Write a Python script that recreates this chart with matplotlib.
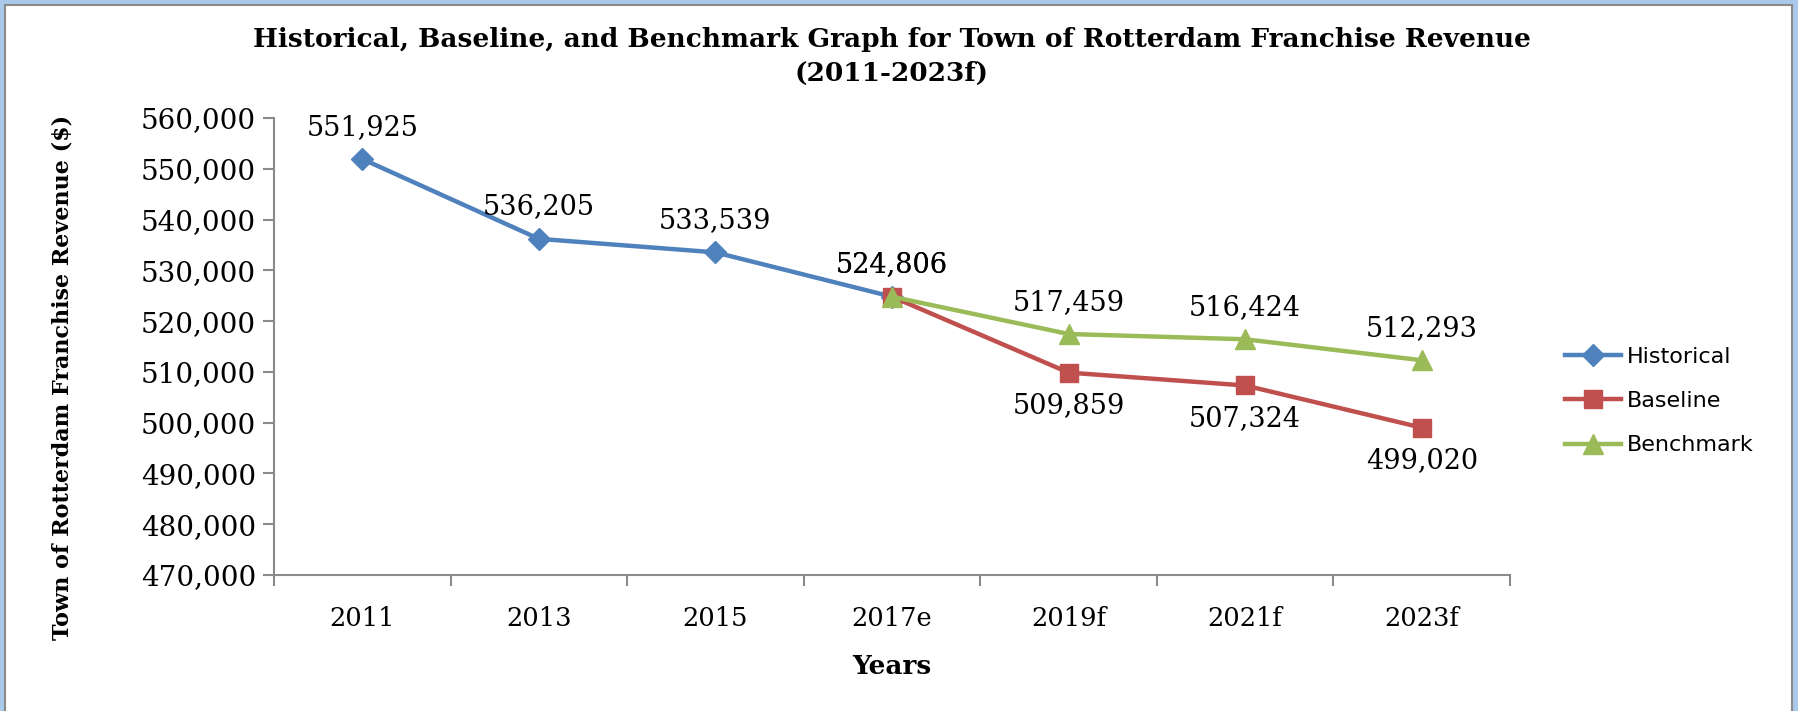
import matplotlib.pyplot as plt
from matplotlib.patches import Rectangle
from matplotlib.ticker import FuncFormatter, FixedLocator

# Data
years = ["2011", "2013", "2015", "2017e", "2019f", "2021f", "2023f"]
historical = [551925, 536205, 533539, 524806]
baseline = [524806, 509859, 507324, 499020]
benchmark = [524806, 517459, 516424, 512293]
hist_x = [0, 1, 2, 3]
proj_x = [3, 4, 5, 6]

W, H = 1799, 711
fig = plt.figure(figsize=(W / 100, H / 100), dpi=100)
fig.patch.set_facecolor("white")

# light blue frame with a thin grey inner line
fig.patches.append(Rectangle((0, 0), 1, 1, transform=fig.transFigure,
                             facecolor="#a9c8ea", edgecolor="none", zorder=-3))
fig.patches.append(Rectangle((5 / W, -0.05), (1792 - 5) / W, 1.05 - 5 / H,
                             transform=fig.transFigure, facecolor="white",
                             edgecolor="#8a8a8a", linewidth=1.5, zorder=-2))

serif = "DejaVu Serif"
blue, red, green = "#4f81bd", "#c0504d", "#9bbb59"

ax = fig.add_axes([274 / W, 1 - 575 / H, (1510 - 274) / W, (575 - 118) / H])
ax.set_facecolor("none")

ax.plot(hist_x, historical, color=blue, lw=3.2, marker="D", ms=11, label="Historical")
ax.plot(proj_x, baseline, color=red, lw=3.2, marker="s", ms=13, label="Baseline")
ax.plot(proj_x, benchmark, color=green, lw=3.2, marker="^", ms=14, label="Benchmark")

fmt = lambda v: f"{v:,.0f}"
for x, v in zip(hist_x, historical):
    ax.annotate(fmt(v), (x, v), xytext=(0, 23), textcoords="offset points",
                ha="center", va="center", family=serif, fontsize=19.5)
for x, v in zip(proj_x, benchmark):
    ax.annotate(fmt(v), (x, v), xytext=(0, 23), textcoords="offset points",
                ha="center", va="center", family=serif, fontsize=19.5)
for x, v in zip(proj_x[1:], baseline[1:]):
    ax.annotate(fmt(v), (x, v), xytext=(0, -24), textcoords="offset points",
                ha="center", va="center", family=serif, fontsize=19.5)

ax.set_xlim(-0.5, 6.5)
ax.set_ylim(470000, 560000)
ax.set_yticks(range(470000, 560001, 10000))
ax.yaxis.set_major_formatter(FuncFormatter(lambda v, p: f"{v:,.0f}"))
ax.xaxis.set_major_locator(FixedLocator([i - 0.5 for i in range(8)]))
ax.xaxis.set_major_formatter(FuncFormatter(lambda v, p: ""))
ax.set_xticks(range(7), minor=True)
ax.set_xticklabels(years, minor=True)

for s in ["top", "right"]:
    ax.spines[s].set_visible(False)
for s in ["left", "bottom"]:
    ax.spines[s].set_color("#8a8a8a")
    ax.spines[s].set_linewidth(1.5)
ax.tick_params(axis="both", which="major", direction="out", length=8,
               width=1.5, color="#8a8a8a")
ax.tick_params(axis="y", pad=5, labelsize=20)
ax.tick_params(axis="x", which="minor", length=0, pad=22, labelsize=18.5)
for lab in ax.get_yticklabels() + ax.get_xticklabels(minor=True):
    lab.set_family(serif)

fig.text(892 / W, 1 - 40 / H,
         "Historical, Baseline, and Benchmark Graph for Town of Rotterdam Franchise Revenue",
         ha="center", va="center", family=serif, fontweight="bold", fontsize=19)
fig.text(892 / W, 1 - 73 / H, "(2011-2023f)", ha="center", va="center",
         family=serif, fontweight="bold", fontsize=19)
fig.text(892 / W, 1 - 666 / H, "Years", ha="center", va="center",
         family=serif, fontweight="bold", fontsize=19)
fig.text(63 / W, 1 - 377 / H, "Town of Rotterdam Franchise Revenue ($)",
         ha="center", va="center", rotation=90, family=serif,
         fontweight="bold", fontsize=16)

leg = ax.legend(loc="center left", bbox_to_anchor=(1545 / W, 1 - 401 / H),
                bbox_transform=fig.transFigure, frameon=False,
                prop={"family": "DejaVu Sans", "size": 16},
                handlelength=2.5, handletextpad=0.3, labelspacing=1.1)

fig.savefig("out.png", dpi=100)
